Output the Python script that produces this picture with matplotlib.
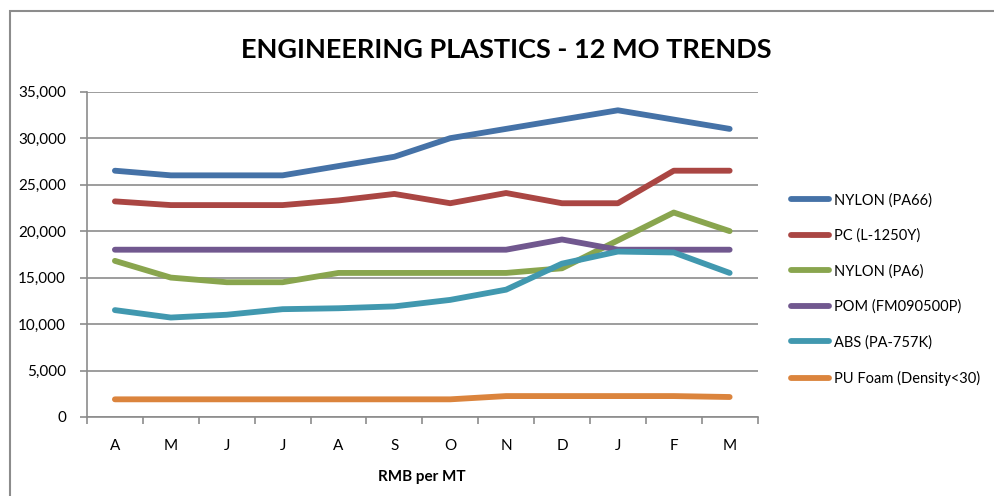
import matplotlib
matplotlib.use('Agg')
import matplotlib.pyplot as plt
from matplotlib.patches import Rectangle
from matplotlib.ticker import FuncFormatter, FixedLocator

matplotlib.rc('font', family=['Lato', 'DejaVu Sans'], size=11)

months = ['A', 'M', 'J', 'J', 'A', 'S', 'O', 'N', 'D', 'J', 'F', 'M']

nylon_pa66 = [26500, 26000, 26000, 26000, 27000, 28000, 30000, 31000, 32000, 33000, 32000, 31000]
pc_l1250y = [23200, 22800, 22800, 22800, 23300, 24000, 23000, 24100, 23000, 23000, 26500, 26500]
nylon_pa6 = [16800, 15000, 14500, 14500, 15500, 15500, 15500, 15500, 16000, 19000, 22000, 20000]
pom = [18000, 18000, 18000, 18000, 18000, 18000, 18000, 18000, 19100, 18000, 18000, 18000]
abs_757k = [11500, 10700, 11000, 11600, 11700, 11900, 12600, 13700, 16500, 17800, 17700, 15500]
pu_foam = [1900, 1900, 1900, 1900, 1900, 1900, 1900, 2250, 2250, 2250, 2250, 2150]

series = [
    ('NYLON (PA66)', nylon_pa66, '#4572A7'),
    ('PC (L-1250Y)', pc_l1250y, '#AA4643'),
    ('NYLON (PA6)', nylon_pa6, '#89A54E'),
    ('POM (FM090500P)', pom, '#71588F'),
    ('ABS (PA-757K)', abs_757k, '#4198AF'),
    ('PU Foam (Density<30)', pu_foam, '#DB843D'),
]

grid_c = '#8c8c8c'

fig = plt.figure(figsize=(9.95, 4.96), dpi=100)
ax = fig.add_axes([0.0874, 0.1593, 0.674, 0.6558])

x = range(len(months))
handles = []
for name, vals, col in series:
    l, = ax.plot(x, vals, color=col, lw=4.2, solid_capstyle='round',
                 solid_joinstyle='round', label=name, zorder=3)
    handles.append(l)

ax.set_ylim(0, 35000)
ax.set_yticks(range(0, 35001, 5000))
ax.yaxis.set_major_formatter(FuncFormatter(lambda v, p: '{:,.0f}'.format(v)))
ax.set_xlim(-0.5, len(months) - 0.5)
ax.set_xticks(list(x))
ax.set_xticklabels(months)
ax.xaxis.set_minor_locator(FixedLocator([i - 0.5 for i in range(len(months) + 1)]))
ax.tick_params(axis='x', which='major', length=0, pad=16)
ax.tick_params(axis='x', which='minor', length=5, color=grid_c, width=1.2)
ax.tick_params(axis='y', length=5, color=grid_c, width=1.2, pad=10)

ax.grid(axis='y', color=grid_c, lw=1.2, zorder=0)
for s in ['top', 'right']:
    ax.spines[s].set_visible(False)
for s in ['left', 'bottom']:
    ax.spines[s].set_color(grid_c)
    ax.spines[s].set_linewidth(1.2)

ax.set_xlabel('RMB per MT', fontweight='bold', labelpad=12)

fig.text(0.5085, 0.90, 'ENGINEERING PLASTICS - 12 MO TRENDS', ha='center', va='center',
         fontsize=19.5, fontweight='bold')

fig.legend(handles=handles, loc='upper left', bbox_to_anchor=(0.782, 0.637),
           frameon=False, handlelength=2.6, handletextpad=0.3, labelspacing=1.45,
           fontsize=10.5)

# chart area border (cropped at right and bottom)
fig.patches.append(Rectangle((0.0097, -0.2), 1.2, 1.2 - 10.5 / 496, transform=fig.transFigure,
                             fill=False, ec='#8c8c8c', lw=1.5))

plt.savefig('out.png', dpi=100)
